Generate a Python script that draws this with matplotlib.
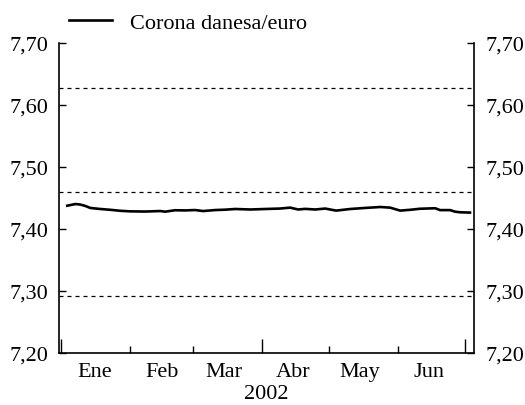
import matplotlib
matplotlib.use("Agg")
import matplotlib.pyplot as plt
from matplotlib.ticker import FixedLocator, FuncFormatter

# days since 1 Jan 2002 and EUR/DKK rate
days = [2.7, 6.3, 8.5, 10.8, 13, 17.5, 22, 26.4, 31, 37.6, 44.4, 46.6, 51, 55.6,
        60, 63.6, 69, 73.5, 78, 84.7, 91.4, 98, 102.6, 106.2, 109.3, 113.8,
        118.3, 123.2, 129.5, 136.2, 143, 147.4, 151.9, 156.4, 160.8, 167.6,
        169.8, 174.3, 176.5, 178.8, 183.2]
rate = [7.4376, 7.4403, 7.4395, 7.4372, 7.4340, 7.4323, 7.4310, 7.4294, 7.4285,
        7.4282, 7.4290, 7.4280, 7.4303, 7.4300, 7.4306, 7.4290, 7.4306, 7.4312,
        7.4323, 7.4315, 7.4323, 7.4330, 7.4345, 7.4315, 7.4325, 7.4315, 7.4330,
        7.4297, 7.4323, 7.4340, 7.4355, 7.4345, 7.4297, 7.4310, 7.4327, 7.4335,
        7.4305, 7.4305, 7.4280, 7.4270, 7.4265]

# ERM II band: central parity and +/-2.25%
central = 7.46038
upper = 7.62824
lower = 7.29252

month_starts = [0, 31, 59, 90, 120, 151, 181]
quarter_starts = [0, 90, 181]
month_mid = [15, 45, 73, 104, 134, 165]
month_names = ["Ene", "Feb", "Mar", "Abr", "May", "Jun"]
yticks = [7.20, 7.30, 7.40, 7.50, 7.60, 7.70]

plt.rcParams['font.family'] = ['Liberation Serif', 'DejaVu Serif']
plt.rcParams['font.size'] = 16

fig = plt.figure(figsize=(5.25, 4.06), dpi=100)
ax = fig.add_axes([0.1124, 0.128, 0.7905, 0.7636])

for lev in [upper, central, lower]:
    ax.axhline(lev, color='black', lw=0.9, dashes=(3.2, 3.2))
ax.plot(days, rate, color='black', lw=1.9, label='Corona danesa/euro')

ax.set_xlim(-1, 185)
ax.set_ylim(7.20, 7.70)

fmt = FuncFormatter(lambda v, p: f"{v:.2f}".replace('.', ','))
ax.yaxis.set_major_locator(FixedLocator(yticks))
ax.yaxis.set_major_formatter(fmt)
ax.tick_params(axis='y', which='both', direction='in', length=5, width=1,
               left=True, right=True, labelleft=True, labelright=True, pad=8)

ax.xaxis.set_major_locator(FixedLocator(quarter_starts))
ax.xaxis.set_minor_locator(FixedLocator(month_starts))
ax.set_xticklabels([])
ax.tick_params(axis='x', which='major', direction='in', length=10, width=1)
ax.tick_params(axis='x', which='minor', direction='in', length=5, width=1)
for m, name in zip(month_mid, month_names):
    ax.text(m, -0.03, name, transform=ax.get_xaxis_transform(),
            ha='center', va='top')

# year label, centred under the axes
pos = ax.get_position()
fig.text((pos.x0 + pos.x1) / 2, 0.004, "2002", ha='center', va='bottom')

for s in ['left', 'right', 'bottom']:
    ax.spines[s].set_linewidth(1.2)
ax.spines['top'].set_visible(False)

ax.legend(loc='lower left', bbox_to_anchor=(0.0, 1.0), frameon=False,
          handlelength=1.95, handletextpad=0.8, borderaxespad=0.05)

fig.savefig("out.png", dpi=100)
